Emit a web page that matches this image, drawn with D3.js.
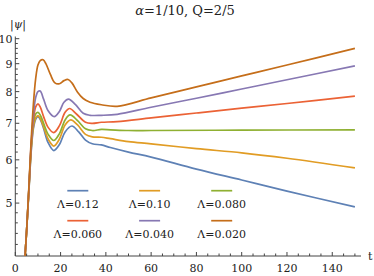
<!DOCTYPE html>
<html>
<head>
<meta charset="utf-8">
<script src="https://cdn.jsdelivr.net/npm/d3@7"></script>
<style>
	body { margin: 0; background: #fff; }
	.axis line { stroke: #444; }
	.lbl { fill: #222; }
</style>
</head>
<body>
<div id="chart"></div>
<script>
// values: [t, |psi|]
const lambdaLabels = ["Λ=0.12", "Λ=0.10", "Λ=0.080", "Λ=0.060", "Λ=0.040", "Λ=0.020"];
const colors = ["#5E81B5", "#E19C24", "#8FB032", "#EB6235", "#8778B3", "#C56E1A"];

const s012 = [[3.6,3.6],[5,4.45],[6,5.25],[7,6.2],[8,6.85],[9,7.12],[10,7.2],[11,7.12],[12.5,6.85],[14.5,6.45],[17,6.24],[19.5,6.4],[22,6.75],[25,6.92],[28,6.75],[31,6.52],[34,6.42],[38,6.39],[42,6.32],[50,6.2],[60,6.07],[80,5.77],[100,5.51],[120,5.26],[150,4.92]];
const s010 = [[3.6,3.6],[5,4.45],[6,5.27],[7,6.25],[8,6.9],[9,7.16],[10,7.23],[11,7.15],[12.5,6.9],[14.5,6.55],[17,6.36],[19.5,6.55],[22,6.95],[24.5,7.1],[27.5,6.95],[31,6.68],[34,6.61],[38,6.6],[42,6.56],[50,6.48],[60,6.42],[80,6.29],[100,6.18],[120,6.04],[150,5.8]];
const s008 = [[3.6,3.6],[5,4.45],[6,5.3],[7,6.3],[8,7.0],[9,7.28],[10,7.33],[11,7.25],[12.5,7.0],[14.5,6.68],[17,6.51],[19.5,6.7],[22,7.1],[24.2,7.25],[27.5,7.08],[31,6.84],[34,6.79],[38,6.82],[42,6.81],[50,6.79],[60,6.79],[100,6.8],[150,6.81]];
const s006 = [[3.6,3.6],[5,4.45],[6,5.3],[7,6.35],[8,7.1],[9,7.5],[10,7.6],[11,7.5],[12.5,7.2],[14.5,6.88],[17,6.73],[19.5,6.93],[22,7.33],[24,7.45],[27,7.28],[31,7.03],[34,7.0],[38,7.03],[45,7.05],[60,7.16],[80,7.31],[100,7.46],[120,7.61],[150,7.85]];
const s004 = [[3.6,3.6],[5,4.45],[6,5.32],[7,6.4],[8,7.25],[9,7.8],[10,8.0],[11,8.02],[12.5,7.75],[14.5,7.38],[17.2,7.2],[19.5,7.36],[21.5,7.65],[23.5,7.75],[26.5,7.58],[30,7.3],[33,7.24],[38,7.24],[45,7.27],[60,7.49],[80,7.78],[100,8.09],[120,8.41],[150,8.92]];
const s002 = [[3.6,3.6],[5,4.45],[6,5.35],[7,6.5],[8,7.6],[9,8.45],[10,8.95],[11,9.12],[12.3,9.15],[13.5,9.0],[15.5,8.6],[17.5,8.3],[19.5,8.27],[21.5,8.38],[23.3,8.42],[25,8.3],[27.5,7.98],[30,7.77],[33,7.65],[38,7.57],[45,7.52],[60,7.79],[80,8.16],[100,8.55],[120,8.95],[150,9.6]];
const allSeries = [s012, s010, s008, s006, s004, s002];

const xTicks = [0, 20, 40, 60, 80, 100, 120, 140];
const yTicks = [5, 6, 7, 8, 9, 10];

const FONT = "DejaVu Serif";

const width = 374, height = 276;
const svg = d3.select('#chart').append('svg')
	.attr('width', width).attr('height', height)
	.attr('font-family', FONT);

const x = d3.scaleLinear().domain([0, 150]).range([15.3, 354.9]);
const y = d3.scaleLog().domain([4, 10]).range([256, 38.7]);

// title
const title = svg.append('text').attr('class', 'lbl')
	.attr('x', 185).attr('y', 15).attr('text-anchor', 'middle')
	.attr('font-family', FONT).attr('font-size', 13);
title.append('tspan').attr('font-style', 'italic').text('α');
title.append('tspan').text('=1/10, Q=2/5');

// clip
svg.append('clipPath').attr('id', 'clip').append('rect')
	.attr('x', x(0)).attr('y', 34).attr('width', x(150) - x(0) + 2).attr('height', 256 - 34);

// x axis
const xMinor = d3.range(5, 151, 5).filter(d => d % 20 !== 0);
const gx = svg.append('g').attr('class', 'axis');
gx.append('line').attr('x1', x(0)).attr('x2', 361).attr('y1', 256).attr('y2', 256);
gx.selectAll('.maj').data(xTicks).join('line').attr('class', 'maj')
	.attr('x1', d => x(d)).attr('x2', d => x(d)).attr('y1', 256).attr('y2', 252);
gx.selectAll('.min').data(xMinor).join('line').attr('class', 'min')
	.attr('x1', d => x(d)).attr('x2', d => x(d)).attr('y1', 256).attr('y2', 253.5);
svg.selectAll('.xl').data(xTicks).join('text').attr('class', 'lbl xl')
	.attr('x', d => x(d)).attr('y', 272).attr('text-anchor', 'middle')
	.attr('font-family', FONT).attr('font-size', 11).text(d => d);
svg.append('text').attr('class', 'lbl').attr('x', 368).attr('y', 260)
	.attr('font-family', FONT).attr('font-size', 11).text('t');

// y axis
const yMinor = d3.range(4.2, 10, 0.2).filter(d => Math.abs(d - Math.round(d)) > 0.05);
const gy = svg.append('g').attr('class', 'axis');
gy.append('line').attr('x1', x(0)).attr('x2', x(0)).attr('y1', 256).attr('y2', 36.5);
gy.selectAll('.maj').data(yTicks).join('line').attr('class', 'maj')
	.attr('x1', x(0)).attr('x2', x(0) + 4).attr('y1', d => y(d)).attr('y2', d => y(d));
gy.selectAll('.min').data(yMinor).join('line').attr('class', 'min')
	.attr('x1', x(0)).attr('x2', x(0) + 2.5).attr('y1', d => y(d)).attr('y2', d => y(d));
svg.selectAll('.yl').data(yTicks).join('text').attr('class', 'lbl yl')
	.attr('x', 12.5).attr('y', d => y(d) + 4).attr('text-anchor', 'end')
	.attr('font-family', FONT).attr('font-size', 11).text(d => d);
const yl = svg.append('text').attr('class', 'lbl').attr('x', 10).attr('y', 28)
	.attr('font-family', FONT).attr('font-size', 11);
yl.append('tspan').text('|');
yl.append('tspan').attr('font-style', 'italic').text('ψ');
yl.append('tspan').text('|');

// lines
const line = d3.line()
	.x(d => x(d[0]))
	.y(d => y(d[1]))
	.curve(d3.curveCatmullRom.alpha(0.5));

svg.append('g').attr('clip-path', 'url(#clip)')
	.selectAll('path').data(allSeries).join('path')
	.attr('d', line)
	.attr('fill', 'none')
	.attr('stroke', (d, i) => colors[i])
	.attr('stroke-width', 1.7);

// legend
const legX = [77.8, 149.6, 221.7];
const legY = [190.7, 220.7];
const leg = svg.append('g').selectAll('g').data(lambdaLabels).join('g')
	.attr('transform', (d, i) => `translate(${legX[i % 3]},${legY[Math.floor(i / 3)]})`);
leg.append('line').attr('x1', -10.5).attr('x2', 10.5)
	.attr('stroke', (d, i) => colors[i]).attr('stroke-width', 1.7);
leg.append('text').attr('class', 'lbl').attr('y', 17).attr('text-anchor', 'middle')
	.attr('font-family', FONT).attr('font-size', 11).text(d => d);
</script>
</body>
</html>
